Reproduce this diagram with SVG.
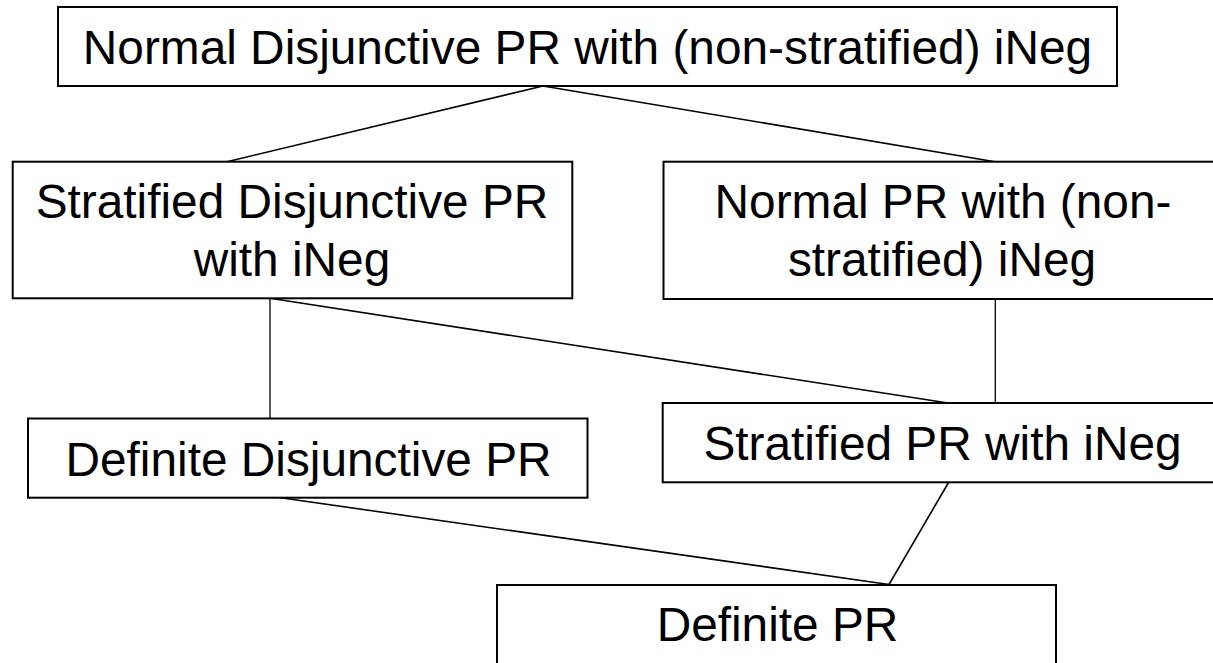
<svg xmlns="http://www.w3.org/2000/svg" width="1213" height="663" viewBox="0 0 1213 663">
<style>
.box{fill:#fff;stroke:#000;stroke-width:2}
.t{font-family:"Liberation Sans",Arial,sans-serif;font-size:47.8px;fill:#000;text-anchor:middle}
.c{stroke:#000;stroke-width:1.6;fill:none}
.v{stroke:#000;stroke-width:1.3;fill:none}
</style>
<rect width="1213" height="663" fill="#fff"/>
<g id="connectors">
<line class="c" x1="543" y1="86" x2="227" y2="161.7"/>
<line class="c" x1="543" y1="86" x2="995" y2="161.7"/>
<line class="v" x1="270" y1="298.3" x2="270" y2="418.5"/>
<line class="c" x1="270" y1="298.3" x2="948" y2="403"/>
<line class="v" x1="995.3" y1="299" x2="995.3" y2="403"/>
<line class="c" x1="254.5" y1="494" x2="889" y2="584.5"/>
<line class="c" x1="950" y1="480" x2="889" y2="584.5"/>
</g>
<g id="n-top">
<rect class="box" x="58" y="7" width="1059" height="79"/>
<text class="t" x="587.5" y="64">Normal Disjunctive PR with (non-stratified) iNeg</text>
</g>
<g id="n-strat-disj">
<rect class="box" x="12.7" y="161.7" width="559.6" height="136.6"/>
<text class="t" x="292" y="218">Stratified Disjunctive PR</text>
<text class="t" x="292" y="276">with iNeg</text>
</g>
<g id="n-normal">
<rect class="box" x="663.5" y="161.7" width="558" height="137.3"/>
<text class="t" x="943" y="218">Normal PR with (non-</text>
<text class="t" x="942" y="275.5">stratified) iNeg</text>
</g>
<g id="n-def-disj">
<rect class="box" x="28" y="418.5" width="559.5" height="79.2"/>
<text class="t" x="308.5" y="476">Definite Disjunctive PR</text>
</g>
<g id="n-strat">
<rect class="box" x="662.7" y="403" width="560" height="79.3"/>
<text class="t" x="942.5" y="460">Stratified PR with iNeg</text>
</g>
<g id="n-def">
<rect class="box" x="497" y="585" width="559" height="100"/>
<text class="t" x="777.5" y="641">Definite PR</text>
</g>
</svg>
